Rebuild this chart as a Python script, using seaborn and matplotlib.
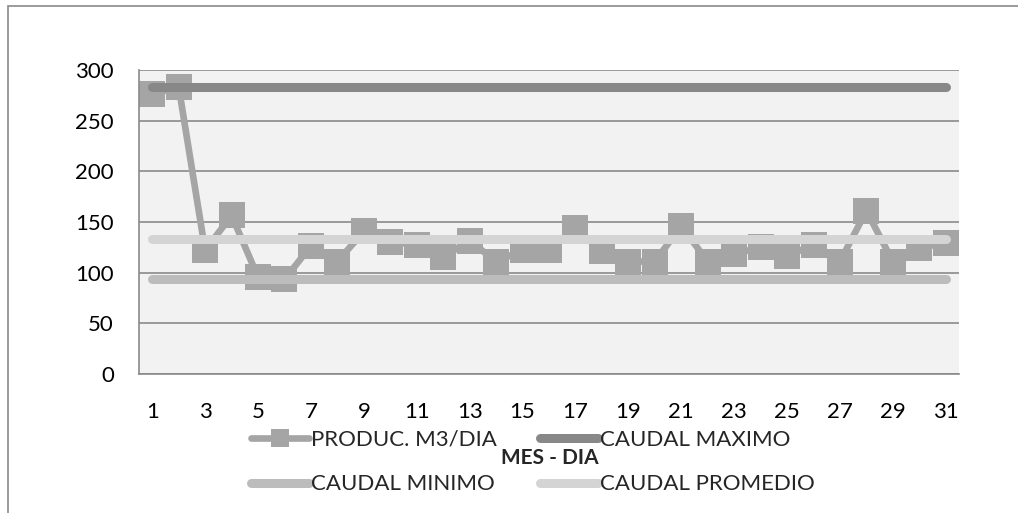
import matplotlib
matplotlib.use("Agg")
import matplotlib.pyplot as plt
import seaborn as sns
from matplotlib.patches import Rectangle

# daily production (m3/day)
dias = list(range(1, 32))
produc = [276, 283.5, 122, 156.5, 95.6, 93.3, 126.5, 111, 140.7, 130.5,
          127.5, 115.7, 131.5, 111, 122, 122, 144, 121, 111, 111,
          146, 111, 118, 125.5, 116.6, 127.5, 111, 161, 111, 124.5, 129.5]
caudal_max = 283.5
caudal_min = 93.3
caudal_prom = 133.3
xtick_labels = [str(d) for d in dias[::2]]
yticks = [0, 50, 100, 150, 200, 250, 300]

sns.set_theme(style="white")
plt.rcParams["font.family"] = ["Lato", "DejaVu Sans"]

fig = plt.figure(figsize=(10.18, 5.13), dpi=100)
ax = fig.add_axes([139 / 1018, 1 - 374 / 513, 820 / 1018, 304 / 513])
ax.set_facecolor("#f2f2f2")

sns.lineplot(x=dias, y=produc, ax=ax, color="#a5a5a5", linewidth=4.8,
             marker="s", markersize=18.5, markeredgewidth=0,
             markerfacecolor="#a5a5a5", label="PRODUC. M3/DIA", zorder=2)
sns.lineplot(x=dias, y=[caudal_max] * len(dias), ax=ax, color="#888888",
             linewidth=6.5, solid_capstyle="round", label="CAUDAL MAXIMO", zorder=3)
sns.lineplot(x=dias, y=[caudal_min] * len(dias), ax=ax, color="#bcbcbc",
             linewidth=6.5, solid_capstyle="round", label="CAUDAL MINIMO", zorder=4)
sns.lineplot(x=dias, y=[caudal_prom] * len(dias), ax=ax, color="#d4d4d4",
             linewidth=6.5, solid_capstyle="round", label="CAUDAL PROMEDIO", zorder=5)

ax.set_xlim(0.5, 31.5)
ax.set_ylim(0, 300)
ax.set_yticks(yticks)
ax.set_yticklabels([str(v) for v in yticks], fontsize=16)
ax.set_xticks(dias[::2])
ax.set_xticklabels(xtick_labels, fontsize=16)
ax.tick_params(axis="both", length=0, colors="black")
ax.tick_params(axis="x", pad=20)
ax.tick_params(axis="y", pad=18)
ax.yaxis.grid(True, color="#8a8a8a", linewidth=1.2)
ax.set_axisbelow(True)
for side in ["top", "right"]:
    ax.spines[side].set_visible(False)
for side in ["left", "bottom"]:
    ax.spines[side].set_color("#8a8a8a")
    ax.spines[side].set_linewidth(1.2)

ax.set_xlabel("")
fig.text(550 / 1018, 1 - 458 / 513, "MES - DIA", ha="center", va="center",
         fontsize=15, fontweight="bold")

# legend laid out row by row like the original: column 1 = PRODUC, MINIMO
handles, labels = ax.get_legend_handles_labels()
ax.get_legend().remove()
order = [0, 2, 1, 3]
fig.legend([handles[i] for i in order], [labels[i] for i in order], ncol=2,
           loc="upper left", bbox_to_anchor=(231 / 1018, 1 - 410 / 513),
           frameon=False, fontsize=16, handlelength=2.6, handletextpad=0.1,
           columnspacing=1.95, labelspacing=1.1, numpoints=1, markerscale=0.7)

# outer chart border (cropped at right and bottom)
fig.patches.append(Rectangle((8 / 1018, -0.1), 1.2, 1 - 6 / 513 + 0.1,
                             transform=fig.transFigure, fill=False,
                             edgecolor="#8a8a8a", linewidth=1.2))

fig.savefig("out.png", dpi=100)
